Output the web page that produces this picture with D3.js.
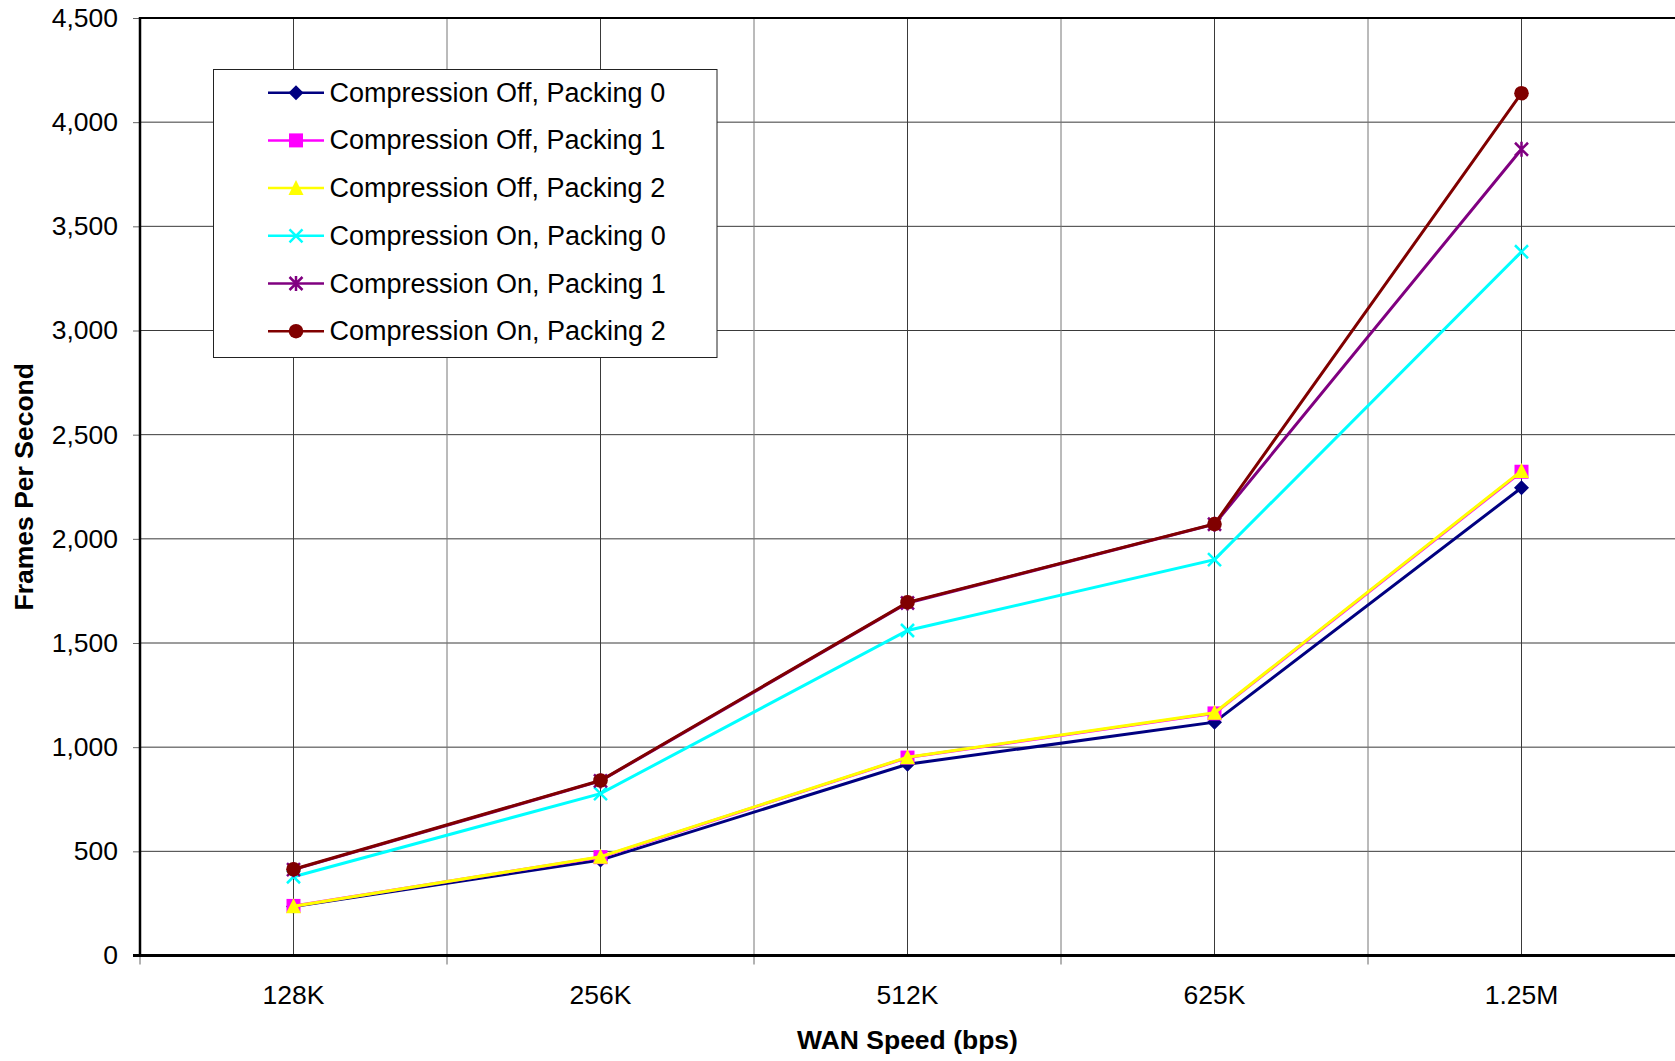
<!DOCTYPE html>
<html>
<head>
<meta charset="utf-8">
<script src="https://cdn.jsdelivr.net/npm/d3@7"></script>
<style>
  html, body { margin: 0; padding: 0; background: #fff; }
  svg { display: block; font-family: "Liberation Sans", Arial, sans-serif; }
</style>
</head>
<body>
<svg id="chart" width="1675" height="1061"></svg>
<script>
// WAN speed categories and frames-per-second results per configuration
const categories = ["128K", "256K", "512K", "625K", "1.25M"];
const compOffPack0 = [235, 458, 918, 1120, 2245];
const compOffPack1 = [238, 472, 950, 1162, 2322];
const compOffPack2 = [236, 474, 952, 1165, 2326];
const compOnPack0  = [378, 777, 1560, 1900, 3378];
const compOnPack1  = [412, 838, 1692, 2070, 3870];
const compOnPack2  = [414, 840, 1695, 2071, 4139];
const yTicks = [0, 500, 1000, 1500, 2000, 2500, 3000, 3500, 4000, 4500];
const seriesNames = [
  "Compression Off, Packing 0",
  "Compression Off, Packing 1",
  "Compression Off, Packing 2",
  "Compression On, Packing 0",
  "Compression On, Packing 1",
  "Compression On, Packing 2"
];

const series = [
  { name: seriesNames[0], values: compOffPack0, color: "#000080", marker: "diamond" },
  { name: seriesNames[1], values: compOffPack1, color: "#FF00FF", marker: "square" },
  { name: seriesNames[2], values: compOffPack2, color: "#FFFF00", marker: "triangle" },
  { name: seriesNames[3], values: compOnPack0,  color: "#00FFFF", marker: "x" },
  { name: seriesNames[4], values: compOnPack1,  color: "#800080", marker: "star" },
  { name: seriesNames[5], values: compOnPack2,  color: "#800000", marker: "circle" }
];

const svg = d3.select("#chart");
const plotLeft = 140, plotRight = 1675, plotTop = 18, plotBottom = 955.5;
const TICK_FONT = 26.5, LEGEND_FONT = 27, TITLE_FONT = 26.5;

const x = d3.scaleBand().domain(categories).range([plotLeft, plotRight]).paddingInner(0).paddingOuter(0);
const cx = c => x(c) + x.bandwidth() / 2;
const y = d3.scaleLinear().domain([0, 4500]).range([plotBottom, plotTop]);

// gridlines
const grid = svg.append("g").attr("stroke", "#3a3a3a").attr("stroke-width", 1);
yTicks.filter(v => v > 0 && v < 4500).forEach(v => {
  grid.append("line").attr("x1", plotLeft).attr("x2", plotRight).attr("y1", y(v)).attr("y2", y(v));
});
const boundaries = categories.map(c => x(c)).concat([plotRight]);
categories.forEach(c => {
  grid.append("line").attr("x1", cx(c)).attr("x2", cx(c)).attr("y1", plotTop).attr("y2", plotBottom);
});
boundaries.slice(1, -1).forEach(b => {
  grid.append("line").attr("x1", b).attr("x2", b).attr("y1", plotTop).attr("y2", plotBottom).attr("stroke", "#777");
});

// top border
svg.append("line").attr("x1", plotLeft).attr("x2", plotRight).attr("y1", plotTop).attr("y2", plotTop)
  .attr("stroke", "#000").attr("stroke-width", 2);

// y axis
const yAxis = svg.append("g").attr("transform", `translate(${plotLeft},0)`)
  .call(d3.axisLeft(y).tickValues(yTicks).tickFormat(d3.format(",")).tickSize(7).tickPadding(15));
yAxis.select(".domain").remove();
yAxis.selectAll(".tick line").attr("stroke", "#666");
yAxis.selectAll("text").attr("font-size", TICK_FONT).attr("fill", "#000")
  .attr("font-family", "Liberation Sans, Arial, sans-serif");
svg.append("line").attr("x1", plotLeft).attr("x2", plotLeft).attr("y1", plotTop - 1).attr("y2", plotBottom + 1)
  .attr("stroke", "#000").attr("stroke-width", 2.5);

// x axis
const xAxis = svg.append("g").attr("transform", `translate(0,${plotBottom})`)
  .call(d3.axisBottom(x).tickSize(0).tickPadding(30));
xAxis.select(".domain").remove();
xAxis.selectAll("text").attr("font-size", TICK_FONT).attr("fill", "#000")
  .attr("font-family", "Liberation Sans, Arial, sans-serif");
boundaries.slice(0, -1).forEach(b => {
  svg.append("line").attr("x1", b).attr("x2", b).attr("y1", plotBottom).attr("y2", plotBottom + 9)
    .attr("stroke", "#666").attr("stroke-width", 1);
});
svg.append("line").attr("x1", plotLeft - 7).attr("x2", plotRight).attr("y1", plotBottom).attr("y2", plotBottom)
  .attr("stroke", "#000").attr("stroke-width", 3);

// axis titles
svg.append("text").attr("x", (plotLeft + plotRight) / 2).attr("y", 1040).attr("text-anchor", "middle")
  .attr("dominant-baseline", "central").attr("font-weight", "bold").attr("font-size", TITLE_FONT)
  .text("WAN Speed (bps)");
svg.append("text").attr("transform", `translate(23.5,${(plotTop + plotBottom) / 2}) rotate(-90)`)
  .attr("text-anchor", "middle").attr("dominant-baseline", "central")
  .attr("font-weight", "bold").attr("font-size", TITLE_FONT).text("Frames Per Second");

// marker shapes
function drawMarker(g, type, color) {
  switch (type) {
    case "diamond":
      g.append("path").attr("d", "M0,-7.5L7.5,0L0,7.5L-7.5,0Z").attr("fill", color);
      break;
    case "square":
      g.append("rect").attr("x", -7).attr("y", -7).attr("width", 14).attr("height", 14).attr("fill", color);
      break;
    case "triangle":
      g.append("path").attr("d", "M0,-8L7.5,7L-7.5,7Z").attr("fill", color);
      break;
    case "circle":
      g.append("circle").attr("r", 7.3).attr("fill", color);
      break;
    case "x":
      g.append("path").attr("d", "M-6.5,-6.5L6.5,6.5M-6.5,6.5L6.5,-6.5")
        .attr("stroke", color).attr("stroke-width", 2.5).attr("fill", "none");
      break;
    case "star":
      g.append("path").attr("d", "M-6.5,-6.5L6.5,6.5M-6.5,6.5L6.5,-6.5M0,-7.5L0,7.5")
        .attr("stroke", color).attr("stroke-width", 2.5).attr("fill", "none");
      break;
  }
}

// series lines and markers
const line = d3.line().x((d, i) => cx(categories[i])).y(d => y(d));
series.forEach(s => {
  const g = svg.append("g");
  g.append("path").datum(s.values).attr("d", line)
    .attr("fill", "none").attr("stroke", s.color).attr("stroke-width", 3);
  s.values.forEach((v, i) => {
    const m = g.append("g").attr("transform", `translate(${cx(categories[i])},${y(v)})`);
    drawMarker(m, s.marker, s.color);
  });
});

// legend
const legend = svg.append("g");
legend.append("rect").attr("x", 213.5).attr("y", 69.5).attr("width", 503.5).attr("height", 288)
  .attr("fill", "#fff").attr("stroke", "#222").attr("stroke-width", 1);
series.forEach((s, i) => {
  const ly = 92.7 + i * 47.7;
  const row = legend.append("g").attr("transform", `translate(0,${ly})`);
  row.append("line").attr("x1", 268).attr("x2", 324).attr("y1", 0).attr("y2", 0)
    .attr("stroke", s.color).attr("stroke-width", 2.5);
  drawMarker(row.append("g").attr("transform", "translate(296,0)"), s.marker, s.color);
  row.append("text").attr("x", 329.5).attr("y", 0).attr("dominant-baseline", "central")
    .attr("font-size", LEGEND_FONT).attr("fill", "#000").text(s.name);
});
</script>
</body>
</html>
